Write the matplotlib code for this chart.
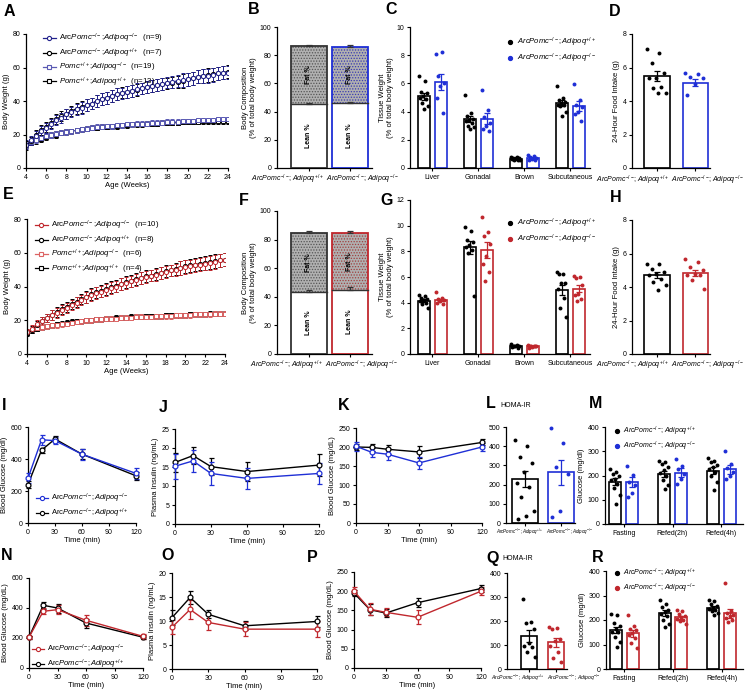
import numpy as np
import matplotlib
matplotlib.use('Agg')
import matplotlib.pyplot as plt
from matplotlib.lines import Line2D

plt.rcParams['font.family'] = ['Liberation Sans', 'DejaVu Sans']
plt.rcParams['mathtext.fontset'] = 'custom'
plt.rcParams['mathtext.rm'] = 'Liberation Sans'
plt.rcParams['mathtext.it'] = 'Liberation Sans:italic'
plt.rcParams['mathtext.bf'] = 'Liberation Sans:bold'
plt.rcParams['hatch.linewidth'] = 0.6

W, H = 745, 692
NAVY = '#22228c'
NAVY_L = '#5a5ab4'
BLUE = '#1f2fd6'
RED = '#c0272d'
RED_L = '#dc6464'

# ---------------- data ----------------
weeks = np.arange(4, 24.5, 0.5)

# A: body weight, Adipoq cohort (blue)
a_ko_obese = [14, 16.5, 19, 22, 24, 26, 28.5, 30, 32, 33.5, 35, 36, 37.5, 38.5, 40, 41, 42, 43, 44, 44.5, 45.5,
              46, 47, 47.5, 48.5, 49, 49.5, 50, 51, 51.5, 52, 52.5, 53, 53.5, 54.5, 55, 55, 55.5, 56.5, 57, 57]
a_wt_obese = [13.5, 16, 19.5, 22.5, 24.5, 27, 29, 31, 32.5, 34, 35.5, 36.5, 37.5, 38.5, 40, 41, 42, 43, 44, 45, 45.5,
              46, 46.5, 47.5, 48.5, 49, 49.5, 50, 50.5, 51, 51.5, 52, 53, 53.5, 54.5, 55, 55.5, 56, 56.5, 57, 57.5]
a_ko_lean = [14, 15.5, 17, 18, 19, 19.5, 20.5, 21, 21.5, 22, 22.5, 23, 23.5, 24, 24.5, 24.5, 25, 25, 25.5, 25.5, 26,
             26, 26.5, 26.5, 26.5, 27, 27, 27, 27.5, 27.5, 27.5, 28, 28, 28, 28.5, 28.5, 28.5, 28.5, 29, 29, 29]
a_wt_lean = [14, 15.5, 16.5, 17.5, 18.5, 19.5, 20, 21, 21.5, 22, 22.5, 23, 23.5, 24, 24, 24.5, 24.5, 25, 25, 25.5, 25.5,
             26, 26, 26, 26.5, 26.5, 26.5, 27, 27, 27, 27, 27.5, 27.5, 27.5, 27.5, 28, 28, 28, 28, 28, 28]
a_obese_sem = [2.5, 2.5, 3, 3, 3, 3, 3, 3, 3, 3, 3.5, 3.5, 3.5, 3.5, 3.5, 3.5, 3.5, 3.5, 3.5, 3.5, 3.5,
               3.5, 3.5, 3.5, 3.5, 3.5, 3.5, 3.5, 3.5, 3.5, 3.5, 4, 4, 4, 4, 4, 4, 4, 4, 4, 4]
a_lean_sem = [2, 2, 2, 2, 1.8, 1.8, 1.8, 1.5, 1.5, 1.5, 1.5, 1.5, 1.5, 1.5, 1.5, 1.5, 1.5, 1.5, 1.5, 1.5, 1.5,
              1.5, 1.5, 1.5, 1.5, 1.5, 1.5, 1.5, 1.5, 1.5, 1.5, 1.5, 1.5, 1.5, 1.5, 1.5, 1.5, 1.5, 1.5, 1.5, 1.5]

# E: body weight, red cohort
e_ko_obese = [13, 15, 17.5, 19.5, 21.5, 23, 24.5, 26, 27.5, 29, 30.5, 32, 33.5, 35, 36, 37, 38, 39, 40, 41.5, 42,
              43, 44, 45, 45.5, 46.5, 47, 48, 48.5, 49.5, 50, 51, 51.5, 52, 52.5, 53, 53.5, 54, 54.5, 55.5, 56]
e_wt_obese = [12.5, 14.5, 17, 19.5, 21.5, 23, 25, 26.5, 28, 29.5, 31, 32.5, 34, 35.5, 36.5, 37.5, 38.5, 39.5, 40.5, 41.5, 42.5,
              43.5, 44.5, 45, 46, 46.5, 47.5, 48, 49, 49.5, 50.5, 51, 52, 52.5, 53, 53.5, 54, 54.5, 55, 55.5, 56]
e_ko_lean = [13, 14.5, 15.5, 16, 16.5, 17, 17, 17.5, 18, 18.5, 19, 19.5, 20, 20, 20.5, 20.5, 21, 21, 21, 21.5, 21.5,
             21.5, 22, 22, 22, 22, 22.5, 22.5, 22.5, 22.5, 23, 23, 23, 23, 23.5, 23.5, 23.5, 23.5, 24, 24, 24]
e_wt_lean = [12.5, 14, 15, 16, 16.5, 17, 17.5, 18, 18.5, 19, 19.5, 19.5, 20, 20, 20.5, 20.5, 21, 21, 21.5, 21.5, 21.5,
             22, 22, 22, 22.5, 22.5, 22.5, 22.5, 23, 23, 23, 23, 23, 23.5, 23.5, 23.5, 23.5, 24, 24, 24, 24]
e_obese_sem = [2, 2, 2.5, 2.5, 2.5, 3, 3, 3, 3, 3, 3, 3, 3.5, 3.5, 3.5, 3.5, 3.5, 3.5, 3.5, 3.5, 3.5,
               3.5, 3.5, 3.5, 3.5, 3.5, 3.5, 3.5, 3.5, 3.5, 3.5, 4, 4, 4, 4, 4, 4, 4, 4, 4, 4]
e_lean_sem = [1.5, 1.5, 1.5, 1.5, 1.5, 1.5, 1.5, 1.5, 1.5, 1.5, 1.5, 1.5, 1.5, 1.5, 1.5, 1.5, 1.5, 1.5, 1.5, 1.5, 1.5,
              1.5, 1.5, 1.5, 1.5, 1.5, 1.5, 1.5, 1.5, 1.5, 1.5, 1.5, 1.5, 1.5, 1.5, 1.5, 1.5, 1.5, 1.5, 1.5, 1.5]

# B / F: body composition (lean %, total %)
b_lean, b_total = [45.5, 46.0], [86.5, 86.0]
b_lean_sem, b_total_sem = [0.8, 1.0], [1.0, 1.5]
f_lean, f_total = [43.5, 45.0], [84.5, 84.5]
f_lean_sem, f_total_sem = [1.0, 1.8], [1.3, 1.8]

# C / G: tissue weights
tissues = ['Liver', 'Gonadal', 'Brown', 'Subcutaneous']
c_wt_pts = [[6.5, 6.2, 5.4, 5.3, 5.1, 5.0, 4.9, 4.6, 4.4, 4.2], [5.2, 3.9, 3.7, 3.5, 3.4, 3.3, 3.2, 3.0, 2.9, 2.8],
            [0.8, 0.75, 0.7, 0.7, 0.65, 0.65, 0.6, 0.6, 0.55, 0.7], [5.8, 5.0, 4.8, 4.7, 4.6, 4.5, 4.5, 4.4, 4.0, 3.7]]
c_wt_mean, c_wt_sem = [5.1, 3.5, 0.67, 4.6], [0.25, 0.22, 0.03, 0.2]
c_ko_pts = [[8.1, 8.2, 6.5, 6.0, 5.8, 5.0, 3.9], [5.5, 4.1, 3.6, 3.2, 3.0, 2.8, 2.6],
            [0.95, 0.85, 0.75, 0.7, 0.65, 0.6, 0.55], [5.95, 4.8, 4.5, 4.3, 4.0, 3.8, 3.3]]
c_ko_mean, c_ko_sem = [6.1, 3.5, 0.72, 4.4], [0.6, 0.38, 0.06, 0.35]

g_wt_pts = [[4.6, 4.5, 4.4, 4.3, 4.2, 4.1, 4.0, 3.9, 3.6, 4.2], [9.9, 9.6, 8.9, 8.7, 8.5, 8.3, 8.1, 7.9, 4.5],
            [0.75, 0.7, 0.65, 0.6, 0.6, 0.55, 0.5, 0.6], [6.4, 6.2, 6.2, 5.5, 5.5, 5.1, 4.4, 3.6, 2.9]]
g_wt_mean, g_wt_sem = [4.15, 8.3, 0.62, 5.0], [0.1, 0.5, 0.03, 0.4]
g_ko_pts = [[4.8, 4.4, 4.3, 4.2, 4.1, 4.0, 3.9, 4.2], [10.7, 9.5, 9.2, 8.6, 7.6, 7.0, 6.4, 5.7],
            [0.7, 0.65, 0.6, 0.6, 0.55, 0.5, 0.6, 0.65], [6.1, 6.0, 5.9, 5.4, 4.7, 4.6, 4.3, 4.1]]
g_ko_mean, g_ko_sem = [4.2, 8.1, 0.6, 5.1], [0.1, 0.6, 0.03, 0.3]

# D / H: 24-hour food intake
d_wt = [7.1, 6.85, 6.25, 5.65, 5.4, 5.35, 4.85, 4.8, 4.5, 4.5]
d_ko = [5.7, 5.6, 5.45, 5.4, 5.0, 4.35]
d_mean, d_sem = [5.5, 5.1], [0.28, 0.2]
h_wt = [5.4, 5.4, 5.1, 4.9, 4.8, 4.7, 4.5, 4.3, 4.1, 3.8]
h_ko = [5.65, 5.5, 5.2, 5.0, 4.8, 4.7, 4.7, 4.4, 3.9]
h_mean, h_sem = [4.7, 4.85], [0.17, 0.18]

# I-K / N-P: time courses
t_min = [0, 15, 30, 60, 120]
i_ko, i_ko_sem = [280, 520, 515, 430, 310], [30, 30, 20, 35, 35]
i_wt, i_wt_sem = [240, 455, 525, 430, 295], [20, 15, 20, 30, 25]
j_wt, j_wt_sem = [16.2, 18.0, 15.1, 13.8, 15.5], [2.5, 2.3, 2.3, 2.4, 2.8]
j_ko, j_ko_sem = [15.2, 16.6, 13.3, 12.0, 13.3], [3.3, 3.0, 3.0, 2.8, 2.8]
k_wt, k_wt_sem = [200, 199, 194, 187, 212], [8, 10, 12, 15, 8]
k_ko, k_ko_sem = [202, 186, 181, 158, 200], [12, 12, 15, 15, 10]
n_ko, n_ko_sem = [205, 378, 389, 318, 211], [10, 20, 30, 35, 15]
n_wt, n_wt_sem = [205, 418, 400, 300, 205], [10, 22, 30, 30, 12]
o_wt, o_wt_sem = [10.7, 14.9, 11.4, 9.0, 9.9], [1.5, 1.3, 0.8, 0.9, 1.2]
o_ko, o_ko_sem = [8.7, 12.4, 9.7, 8.3, 8.3], [1.5, 2.0, 1.5, 1.4, 1.7]
p_wt, p_wt_sem = [195, 152, 143, 170, 207], [8, 15, 10, 12, 10]
p_ko, p_ko_sem = [200, 153, 145, 132, 200], [10, 15, 10, 18, 10]

# L / Q: HOMA-IR
l_wt = [430, 400, 345, 310, 265, 210, 190, 135, 60, 35, 20]
l_ko = [495, 415, 290, 255, 65, 30]
l_mean, l_sem = [228, 265], [42, 65]
q_wt = [293, 195, 190, 165, 110, 95, 93, 72, 50]
q_ko = [175, 172, 168, 125, 118, 95, 72, 44, 30]
q_mean, q_sem = [137, 111], [26, 20]

# M / R: fasting / refed glucose
feed = ['Fasting', 'Refed(2h)', 'Refed(4h)']
m_wt_pts = [[225, 215, 207, 200, 186, 180, 166, 150, 120, 82], [258, 255, 247, 236, 222, 210, 200, 180, 160, 146],
            [274, 260, 254, 245, 234, 225, 215, 200, 175, 139]]
m_wt_mean, m_wt_sem = [175, 207, 220], [15, 13, 13]
m_ko_pts = [[238, 204, 175, 160, 126, 112], [268, 241, 225, 205, 185, 166], [300, 247, 230, 215, 200, 186]]
m_ko_mean, m_ko_sem = [172, 212, 225], [20, 17, 17]
r_wt_pts = [[225, 220, 187, 175, 165, 153, 150, 132, 112, 91], [282, 265, 255, 240, 232, 225, 215, 200, 185, 172],
            [282, 278, 265, 258, 250, 245, 240, 235, 230, 220]]
r_wt_mean, r_wt_sem = [160, 229, 250], [13, 11, 6]
r_ko_pts = [[222, 175, 165, 158, 145, 138, 125, 105, 85], [240, 235, 225, 218, 212, 205, 200, 195, 185],
            [353, 235, 228, 222, 215, 210, 198, 190]]
r_ko_mean, r_ko_sem = [146, 212, 228], [14, 6, 18]


# ---------------- helpers ----------------
def geno(p, a, pre='Arc', italic_all=False):
    if italic_all:
        return '$\\mathit{' + pre + 'Pomc}^{' + p + '}\\mathit{;Adipoq}^{' + a + '}$'
    return pre + '$\\mathit{Pomc}^{' + p + '}$;$\\mathit{Adipoq}^{' + a + '}$'


fig = plt.figure(figsize=(7.45, 6.92), dpi=100)
renderer = fig.canvas.get_renderer()


def add(l, t, w, h):
    return fig.add_axes([l / W, 1 - (t + h) / H, w / W, h / H])


def prism(ax, xlim, ylim, yticks, ylabel=None, xlabel=None):
    ax.spines['top'].set_visible(False)
    ax.spines['right'].set_visible(False)
    ax.spines['left'].set_linewidth(0.9)
    ax.spines['bottom'].set_linewidth(0.9)
    ax.set_xlim(*xlim)
    ax.set_ylim(*ylim)
    ax.set_yticks(yticks)
    ax.tick_params(labelsize=5, length=2.5, width=0.8, pad=1.5)
    if ylabel:
        ax.set_ylabel(ylabel, fontsize=5.5, labelpad=2)
    if xlabel:
        ax.set_xlabel(xlabel, fontsize=5.5, labelpad=1)


def letter(x, y, s, extra=None):
    fig.text(x / W, 1 - y / H, s, fontsize=11.5, fontweight='bold', ha='center', va='center')
    if extra:
        fig.text((x + 9) / W, 1 - (y + 1) / H, extra, fontsize=5, ha='left', va='center')


def fit_text(x, y, s, width, ha):
    t = fig.text(x / W, 1 - y / H, s, fontsize=5, ha=ha, va='center')
    w = t.get_window_extent(renderer).width
    t.set_fontsize(5 * width / w)
    return t


def pair_labels(ax, gap_x, y, width):
    # genotype labels under a two-bar panel, set either side of the gap as in the reference
    ax.set_xticklabels(['', ''])
    fit_text(gap_x - 1, y, geno('-/-', '+/+', italic_all=True), width, 'right')
    fit_text(gap_x + 1, y, geno('-/-', '-/-', italic_all=True), width, 'left')


def line_legend(ax, x, y, entries, fs, spacing=0.15):
    hs = [Line2D([], [], color=c, marker=m, mfc='white', ms=3, mew=0.8, lw=0.9) for c, m, _ in entries]
    ax.legend(hs, [l for _, _, l in entries], loc='upper left', bbox_to_anchor=(x / W, 1 - y / H),
              bbox_transform=fig.transFigure, frameon=False, fontsize=fs, handlelength=1.6,
              handletextpad=0.4, borderpad=0, borderaxespad=0, labelspacing=spacing)


def dot_legend(ax, x, y, entries, fs=5.5, spacing=0.35):
    hs = [Line2D([], [], ls='none', marker='o', ms=2.8, color=c) for c, _ in entries]
    ax.legend(hs, [l for _, l in entries], loc='upper left', bbox_to_anchor=(x / W, 1 - y / H),
              bbox_transform=fig.transFigure, frameon=False, fontsize=fs, handlelength=0.8,
              handletextpad=0.5, borderpad=0, borderaxespad=0, labelspacing=spacing)


def growth(ax, series):
    for y, e, col, mk in series:
        ax.errorbar(weeks, y, yerr=e, color=col, marker=mk, ms=3, mfc='white', mew=0.7, lw=0.8,
                    elinewidth=0.7, capsize=1.2, capthick=0.7)


def dotbar(ax, x, pts, mean, sem, color, width):
    ax.bar(x, mean, width, facecolor='white', edgecolor=color, linewidth=1.2, zorder=2)
    n = len(pts)
    off = ((np.arange(n) * 0.618) % 1 - 0.5) * width * 0.8
    ax.scatter(x + off, pts, s=8, color=color, linewidths=0, zorder=5, clip_on=False)
    ax.errorbar(x, mean, yerr=sem, color=color, capsize=2, elinewidth=0.9, capthick=0.9, zorder=6)


def stack(ax, lean, total, lean_sem, total_sem, cols, dotcols):
    w = 0.88
    for i in range(2):
        ax.bar(i, lean[i], w, facecolor='white', edgecolor='none', zorder=1)
        ax.bar(i, total[i] - lean[i], w, bottom=lean[i], facecolor='#b0b0b0', edgecolor=dotcols[i],
               hatch='......', linewidth=0, zorder=1)
        ax.bar(i, total[i], w, facecolor='none', edgecolor=cols[i], linewidth=1.3, zorder=3)
        ax.plot([i - w / 2, i + w / 2], [lean[i], lean[i]], color='#333333', lw=1.0, zorder=3)
        ax.errorbar(i, total[i], yerr=[[0], [total_sem[i]]], color='#333333', capsize=2.5,
                    elinewidth=0.9, capthick=0.9, zorder=4)
        ax.errorbar(i, lean[i], yerr=[[0], [lean_sem[i]]], color='#333333', capsize=2.5,
                    elinewidth=0.9, capthick=0.9, zorder=4)
        ax.text(i, (lean[i] + total[i]) / 2, 'Fat %', rotation=90, fontsize=5, fontweight='bold',
                ha='center', va='center', zorder=5)
        ax.text(i, lean[i] / 2, 'Lean %', rotation=90, fontsize=5, fontweight='bold',
                ha='center', va='center', zorder=5)
    ax.set_xticks([0, 1])


def timecourse(ax, pairs):
    for y, e, col in pairs:
        ax.errorbar(t_min, y, yerr=e, color=col, marker='o', ms=3.5, mfc='white', mew=0.9, lw=1,
                    elinewidth=0.9, capsize=1.8, capthick=0.9, clip_on=False, zorder=4)
    ax.set_xticks([0, 30, 60, 90, 120])


# ---------------- A ----------------
axA = add(26, 34, 202, 134)
growth(axA, [(a_wt_lean, a_lean_sem, 'black', 's'), (a_ko_lean, a_lean_sem, NAVY_L, 's'),
             (a_wt_obese, a_obese_sem, 'black', 'o'), (a_ko_obese, a_obese_sem, NAVY, 'o')])
prism(axA, (4, 24), (0, 80), [0, 20, 40, 60, 80], 'Body Weight (g)', 'Age (Weeks)')
axA.set_xticks(range(4, 25, 2))
line_legend(axA, 43, 32, [(NAVY, 'o', geno('-/-', '-/-') + '  (n=9)'),
                          ('black', 'o', geno('-/-', '+/+') + '  (n=7)'),
                          (NAVY_L, 's', geno('+/+', '-/-', pre='') + '  (n=19)'),
                          ('black', 's', geno('+/+', '+/+', pre='') + '  (n=13)')], 5.7)

# ---------------- E ----------------
axE = add(27, 219, 198, 135)
growth(axE, [(e_wt_lean, e_lean_sem, 'black', 's'), (e_ko_lean, e_lean_sem, RED_L, 's'),
             (e_wt_obese, e_obese_sem, 'black', 'o'), (e_ko_obese, e_obese_sem, RED, 'o')])
prism(axE, (4, 24), (0, 80), [0, 20, 40, 60, 80], 'Body Weight (g)', 'Age (Weeks)')
axE.set_xticks(range(4, 25, 2))
line_legend(axE, 35, 219, [(RED, 'o', geno('-/-', '-/-') + '  (n=10)'),
                           ('black', 'o', geno('-/-', '+/+') + '  (n=8)'),
                           (RED_L, 's', geno('+/+', '-/-', pre='') + '  (n=6)'),
                           ('black', 's', geno('+/+', '+/+', pre='') + '  (n=4)')], 5.7)

# ---------------- B / F ----------------
axB = add(277, 27, 95, 141)
stack(axB, b_lean, b_total, b_lean_sem, b_total_sem, ['#333333', BLUE], ['#555555', '#3a3ab0'])
prism(axB, (-0.78, 1.54), (0, 100), range(0, 101, 20), 'Body Composition\n(% of total body weight)')
pair_labels(axB, 325, 179, 73)

axF = add(277, 211, 95, 143)
stack(axF, f_lean, f_total, f_lean_sem, f_total_sem, ['#333333', RED], ['#555555', '#a04040'])
prism(axF, (-0.78, 1.54), (0, 100), range(0, 101, 20), 'Body Composition\n(% of total body weight)')
pair_labels(axF, 324, 365, 73)


# ---------------- C / G ----------------
def tissue_panel(ax, wt_pts, wt_mean, wt_sem, ko_pts, ko_mean, ko_sem, col):
    for i in range(4):
        dotbar(ax, i - 0.185, wt_pts[i], wt_mean[i], wt_sem[i], 'black', 0.26)
        dotbar(ax, i + 0.185, ko_pts[i], ko_mean[i], ko_sem[i], col, 0.26)
    ax.set_xticks(range(4))
    ax.set_xticklabels(tissues, fontsize=5.5)


axC = add(410, 27, 180, 141)
tissue_panel(axC, c_wt_pts, c_wt_mean, c_wt_sem, c_ko_pts, c_ko_mean, c_ko_sem, BLUE)
prism(axC, (-0.48, 3.43), (0, 10), range(0, 11, 2), 'Tissue Weight\n(% of total body weight)')
dot_legend(axC, 507, 36, [('black', geno('-/-', '+/+', italic_all=True)),
                          (BLUE, geno('-/-', '-/-', italic_all=True))])

axG = add(410, 200, 180, 154)
tissue_panel(axG, g_wt_pts, g_wt_mean, g_wt_sem, g_ko_pts, g_ko_mean, g_ko_sem, RED)
prism(axG, (-0.48, 3.43), (0, 12), range(0, 13, 2), 'Tissue Weight\n(% of total body weight)')
dot_legend(axG, 507, 217, [('black', geno('-/-', '+/+', italic_all=True)),
                           (RED, geno('-/-', '-/-', italic_all=True))])


# ---------------- D / H ----------------
def two_bar(ax, wt, ko, mean, sem, col, width):
    dotbar(ax, 0, wt, mean[0], sem[0], 'black', width)
    dotbar(ax, 1, ko, mean[1], sem[1], col, width)
    ax.set_xticks([0, 1])


axD = add(632, 34, 78, 134)
two_bar(axD, d_wt, d_ko, d_mean, d_sem, BLUE, 0.66)
prism(axD, (-0.65, 1.38), (0, 8), range(0, 9, 2), '24-Hour Food Intake (g)')
pair_labels(axD, 670, 180, 73)

axH = add(632, 220, 78, 134)
two_bar(axH, h_wt, h_ko, h_mean, h_sem, RED, 0.66)
prism(axH, (-0.65, 1.38), (0, 8), range(0, 9, 2), '24-Hour Food Intake (g)')
pair_labels(axH, 670, 365, 73)

# ---------------- I / N ----------------
axI = add(28, 427, 108, 96)
timecourse(axI, [(i_wt, i_wt_sem, 'black'), (i_ko, i_ko_sem, BLUE)])
prism(axI, (0, 120), (0, 600), [0, 200, 400, 600], 'Blood Glucose (mg/dl)', 'Time (min)')
line_legend(axI, 36, 492, [(BLUE, 'o', geno('-/-', '-/-')), ('black', 'o', geno('-/-', '+/+'))], 5.5, 0.2)

axN = add(29, 578, 114, 90)
timecourse(axN, [(n_wt, n_wt_sem, 'black'), (n_ko, n_ko_sem, RED)])
prism(axN, (0, 120), (0, 600), [0, 200, 400, 600], 'Blood Glucose (mg/dL)', 'Time (min)')
line_legend(axN, 32, 643, [(RED, 'o', geno('-/-', '-/-')), ('black', 'o', geno('-/-', '+/+'))], 5.5, 0.2)

# ---------------- J / O ----------------
axJ = add(175, 429, 144, 95)
timecourse(axJ, [(j_wt, j_wt_sem, 'black'), (j_ko, j_ko_sem, BLUE)])
prism(axJ, (0, 120), (0, 25), range(0, 26, 5), 'Plasma Insulin (ng/mL)', 'Time (min)')

axO = add(172, 573, 145, 96)
timecourse(axO, [(o_wt, o_wt_sem, 'black'), (o_ko, o_ko_sem, RED)])
prism(axO, (0, 120), (0, 20), range(0, 21, 5), 'Plasma Insulin (ng/mL)', 'Time (min)')

# ---------------- K / P ----------------
axK = add(356, 428, 126, 95)
timecourse(axK, [(k_wt, k_wt_sem, 'black'), (k_ko, k_ko_sem, BLUE)])
prism(axK, (0, 120), (0, 250), range(0, 251, 50), 'Blood Glucose (mg/dL)', 'Time (min)')

axP = add(354, 572, 127, 96)
timecourse(axP, [(p_wt, p_wt_sem, 'black'), (p_ko, p_ko_sem, RED)])
prism(axP, (0, 120), (0, 250), range(0, 251, 50), 'Blood Glucose (mg/dL)', 'Time (min)')

# ---------------- L / Q ----------------
axL = add(506, 427, 69, 96)
two_bar(axL, l_wt, l_ko, l_mean, l_sem, BLUE, 0.72)
prism(axL, (-0.53, 1.39), (0, 500), range(0, 501, 100))
pair_labels(axL, 545, 532, 48)

axQ = add(507, 573, 60, 96)
two_bar(axQ, q_wt, q_ko, q_mean, q_sem, RED, 0.6)
prism(axQ, (-0.83, 1.43), (0, 400), range(0, 401, 100))
pair_labels(axQ, 546, 678, 54)


# ---------------- M / R ----------------
def feed_panel(ax, wt_pts, wt_mean, wt_sem, ko_pts, ko_mean, ko_sem, col):
    for i in range(3):
        dotbar(ax, i - 0.17, wt_pts[i], wt_mean[i], wt_sem[i], 'black', 0.245)
        dotbar(ax, i + 0.17, ko_pts[i], ko_mean[i], ko_sem[i], col, 0.245)
    ax.set_xticks(range(3))
    ax.set_xticklabels(feed, fontsize=5.5)


axM = add(605, 427, 138, 97)
feed_panel(axM, m_wt_pts, m_wt_mean, m_wt_sem, m_ko_pts, m_ko_mean, m_ko_sem, BLUE)
prism(axM, (-0.38, 2.44), (0, 400), range(0, 401, 100), 'Glucose (mg/dl)')
dot_legend(axM, 614, 425, [('black', geno('-/-', '+/+', italic_all=True)),
                           (BLUE, geno('-/-', '-/-', italic_all=True))], fs=5, spacing=0.2)

axR = add(606, 571, 137, 98)
feed_panel(axR, r_wt_pts, r_wt_mean, r_wt_sem, r_ko_pts, r_ko_mean, r_ko_sem, RED)
prism(axR, (-0.38, 2.44), (0, 400), range(0, 401, 100), 'Glucose (mg/dl)')
dot_legend(axR, 614, 567, [('black', geno('-/-', '+/+', italic_all=True)),
                           (RED, geno('-/-', '-/-', italic_all=True))], fs=5, spacing=0.2)

# ---------------- panel letters ----------------
for x, y, s, extra in [(9, 11, 'A', None), (254, 9, 'B', None), (391, 10, 'C', None), (615, 11, 'D', None),
                       (8, 195, 'E', None), (244, 201, 'F', None), (387, 201, 'G', None), (616, 197, 'H', None),
                       (4, 405, 'I', None), (163, 408, 'J', None), (344, 405, 'K', None),
                       (491, 404, 'L', 'HOMA-IR'), (596, 404, 'M', None),
                       (7, 556, 'N', None), (168, 556, 'O', None), (312, 558, 'P', None),
                       (493, 558, 'Q', 'HOMA-IR'), (598, 558, 'R', None)]:
    letter(x, y, s, extra)

fig.savefig('out.png', dpi=100)
